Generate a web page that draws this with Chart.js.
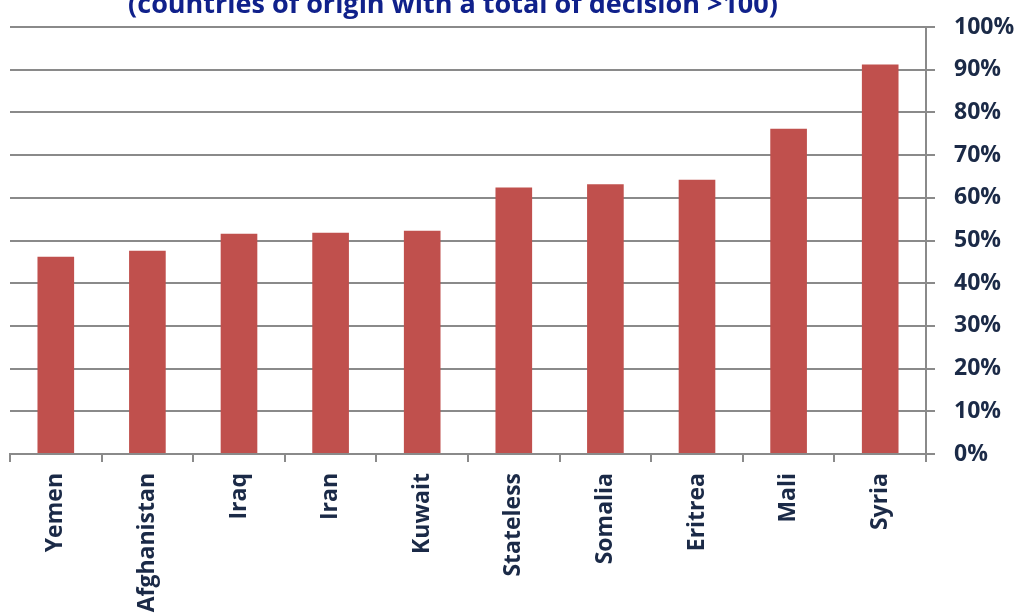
<!DOCTYPE html>
<html>
<head>
<meta charset="utf-8">
<script src="https://cdn.jsdelivr.net/npm/chart.js@4.4.1/dist/chart.umd.min.js"></script>
<style>
  html, body { margin: 0; padding: 0; background: #ffffff; overflow: hidden; }
  #wrap { position: relative; width: 1020px; height: 615px; overflow: hidden; }
  #c { position: absolute; left: 0; top: -20px; }
</style>
</head>
<body>
<div id="wrap"><canvas id="c" width="1020" height="645"></canvas></div>
<script>
const categories = ["Yemen", "Afghanistan", "Iraq", "Iran", "Kuwait", "Stateless", "Somalia", "Eritrea", "Mali", "Syria"];
const recognitionRate = [46.2, 47.6, 51.6, 51.8, 52.3, 62.4, 63.2, 64.2, 76.2, 91.2];
const yTicks = [0, 10, 20, 30, 40, 50, 60, 70, 80, 90, 100];
const titleText = "(countries of origin with a total of decision >100)";

const textColor = "#1b2a47";
const gridColor = "#8a8a8a";
const fontFamily = "'Open Sans', 'DejaVu Sans', sans-serif";

const titlePlugin = {
  id: "clippedTitle",
  afterDraw(chart) {
    const ctx = chart.ctx;
    const a = chart.chartArea;
    ctx.save();
    ctx.font = "bold 27px " + fontFamily;
    ctx.fillStyle = "#10218b";
    ctx.textAlign = "center";
    ctx.textBaseline = "alphabetic";
    ctx.fillText(titleText, (a.left + a.right) / 2 - 15, a.top - 14);
    ctx.restore();
  }
};

new Chart(document.getElementById("c"), {
  type: "bar",
  data: {
    labels: categories,
    datasets: [{
      data: recognitionRate,
      backgroundColor: "#c0504d",
      borderWidth: 0,
      barPercentage: 0.4,
      categoryPercentage: 1.0
    }]
  },
  options: {
    responsive: false,
    animation: false,
    layout: { padding: { left: 10, right: 2, top: 47, bottom: 0 } },
    plugins: {
      legend: { display: false },
      tooltip: { enabled: false },
      title: { display: false }
    },
    scales: {
      x: {
        grid: {
          display: true,
          drawOnChartArea: false,
          offset: true,
          color: gridColor,
          lineWidth: 2,
          tickLength: 8
        },
        border: { display: true, color: gridColor, width: 2 },
        ticks: {
          color: textColor,
          font: { family: fontFamily, weight: "bold", size: 23 },
          minRotation: 90,
          maxRotation: 90,
          autoSkip: false,
          padding: 11
        },
        afterFit: (scale) => { scale.height = 171; }
      },
      y: {
        position: "right",
        min: 0,
        max: 100,
        afterBuildTicks: (scale) => { scale.ticks = yTicks.map(v => ({ value: v })); },
        afterFit: (scale) => { scale.width = 92; },
        grid: {
          color: gridColor,
          lineWidth: 2,
          tickLength: 9
        },
        border: { display: true, color: gridColor, width: 2 },
        ticks: {
          color: textColor,
          font: { family: fontFamily, weight: "bold", size: 23 },
          padding: 19,
          callback: (v) => v + "%"
        }
      }
    }
  },
  plugins: [titlePlugin]
});
</script>
</body>
</html>
